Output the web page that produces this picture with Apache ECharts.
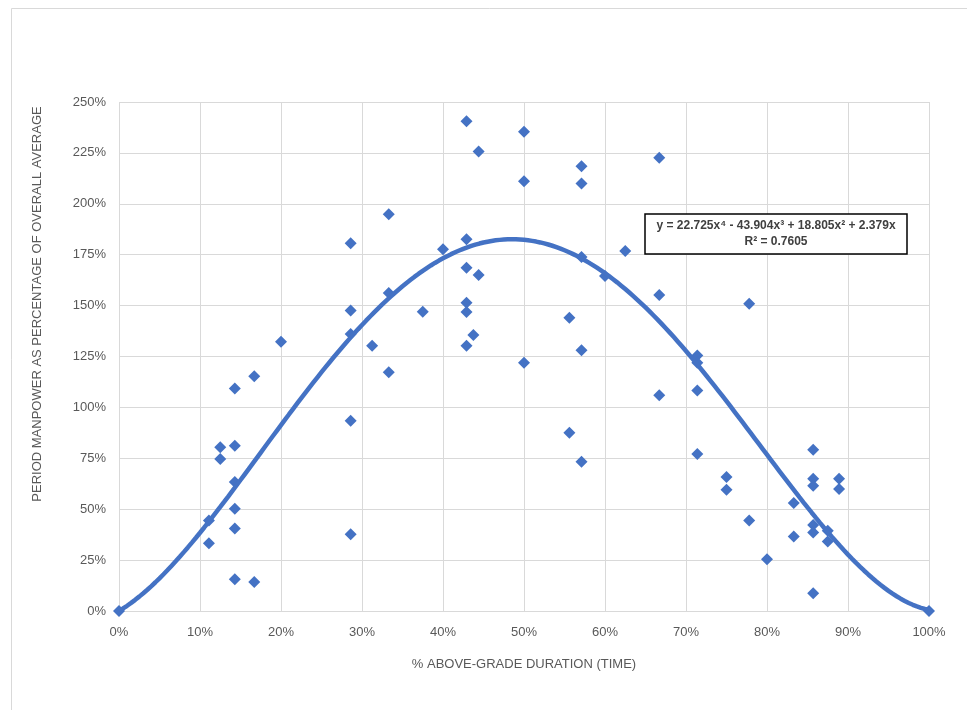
<!DOCTYPE html>
<html>
<head>
<meta charset="utf-8">
<script src="https://cdn.jsdelivr.net/npm/echarts@6/dist/echarts.min.js"></script>
<style>html,body{margin:0;padding:0;background:#fff}#c{width:967px;height:710px}</style>
</head>
<body>
<div id="c"></div>
<script>
// Observed data (fractions: 1 = 100%)
var xValues = [0, 1, 0.111, 0.111, 0.125, 0.125, 0.143, 0.143, 0.143, 0.143, 0.143, 0.143,
  0.167, 0.167, 0.2, 0.286, 0.286, 0.286, 0.286, 0.286, 0.3125, 0.333, 0.333, 0.333,
  0.375, 0.4, 0.429, 0.429, 0.429, 0.429, 0.429, 0.429, 0.4375, 0.444, 0.444,
  0.5, 0.5, 0.5, 0.556, 0.556, 0.571, 0.571, 0.571, 0.571, 0.571, 0.6, 0.625,
  0.667, 0.667, 0.667, 0.714, 0.714, 0.714, 0.714, 0.75, 0.75, 0.778, 0.778, 0.8,
  0.833, 0.833, 0.857, 0.857, 0.857, 0.857, 0.857, 0.857, 0.875, 0.875, 0.889, 0.889];
var yValues = [0, 0, 0.444, 0.333, 0.804, 0.746, 1.093, 0.812, 0.633, 0.502, 0.405, 0.156,
  1.153, 0.143, 1.322, 1.806, 1.476, 1.36, 0.935, 0.377, 1.303, 1.949, 1.562, 1.173,
  1.47, 1.777, 2.406, 1.826, 1.686, 1.514, 1.468, 1.303, 1.355, 2.257, 1.65,
  2.354, 2.111, 1.219, 1.44, 0.876, 2.185, 2.10, 1.739, 1.281, 0.733, 1.645, 1.768,
  2.226, 1.552, 1.06, 1.255, 1.219, 1.083, 0.771, 0.658, 0.595, 1.509, 0.444, 0.254,
  0.53, 0.366, 0.792, 0.65, 0.615, 0.423, 0.385, 0.087, 0.394, 0.341, 0.65, 0.599];
// Trendline coefficients as shown in the chart (x^4, x^3, x^2, x)
var trendCoefficients = [22.725, -43.904, 18.805, 2.379];
var trendLabel = 'y = 22.725x\u2074 - 43.904x\u00B3 + 18.805x\u00B2 + 2.379x';
var r2Label = 'R\u00B2 = 0.7605';
var xTickLabels = ['0%','10%','20%','30%','40%','50%','60%','70%','80%','90%','100%'];
var yTickLabels = ['0%','25%','50%','75%','100%','125%','150%','175%','200%','225%','250%'];
var xTitle = '% ABOVE-GRADE DURATION (TIME)';
var yTitle = 'PERIOD MANPOWER AS PERCENTAGE OF OVERALL AVERAGE';

var points = xValues.map(function (x, i) { return [x, yValues[i]]; });
var trend = [];
for (var i = 0; i <= 200; i++) {
  var x = i / 200;
  var c = trendCoefficients;
  trend.push([x, c[0]*Math.pow(x,4) + c[1]*Math.pow(x,3) + c[2]*x*x + c[3]*x]);
}
var blue = '#4472C4';
var labelColor = '#595959';
var font = 'Liberation Sans';

var chart = echarts.init(document.getElementById('c'));
chart.setOption({
  backgroundColor: '#fff',
  animation: false,
  grid: { left: 119, right: 38, top: 102, bottom: 99 },
  xAxis: {
    type: 'value', min: 0, max: 1, interval: 0.1,
    axisLine: { show: true, lineStyle: { color: '#d9d9d9', width: 1 } },
    axisTick: { show: false },
    splitLine: { show: true, lineStyle: { color: '#d9d9d9', width: 1 } },
    axisLabel: { color: labelColor, fontFamily: font, fontSize: 13, margin: 15,
      formatter: function (v) { return xTickLabels[Math.round(v * 10)]; } }
  },
  yAxis: {
    type: 'value', min: 0, max: 2.5, interval: 0.25,
    axisLine: { show: false },
    axisTick: { show: false },
    splitLine: { show: true, lineStyle: { color: '#d9d9d9', width: 1 } },
    axisLabel: { color: labelColor, fontFamily: font, fontSize: 13, margin: 13,
      formatter: function (v) { return yTickLabels[Math.round(v * 4)]; } }
  },
  series: [
    { type: 'scatter', data: points, symbol: 'diamond', symbolSize: 12,
      itemStyle: { color: blue, opacity: 1 }, z: 2 },
    { type: 'line', data: trend, showSymbol: false, smooth: false,
      lineStyle: { color: blue, width: 4.5 }, z: 3 }
  ],
  graphic: [
    { type: 'rect', left: 9, top: 6, shape: { width: 1000, height: 800 },
      style: { fill: 'none', stroke: '#d9d9d9', lineWidth: 1 }, silent: true, z: -1 },
    { type: 'text', x: 524, y: 664,
      style: { text: xTitle, fill: labelColor, font: '13px "Liberation Sans"', textAlign: 'center', textVerticalAlign: 'middle' } },
    { type: 'text', x: 37, y: 304, rotation: Math.PI / 2,
      style: { text: yTitle, fill: labelColor, font: '13px "Liberation Sans"', textAlign: 'center', textVerticalAlign: 'middle' } },
    { type: 'rect', shape: { x: 645, y: 214, width: 262, height: 40 },
      style: { fill: '#fff', stroke: '#000', lineWidth: 1.5 }, z: 10 },
    { type: 'text', x: 776, y: 226, z: 11,
      style: { text: trendLabel, fill: '#404040', font: 'bold 12px "Liberation Sans"', textAlign: 'center', textVerticalAlign: 'middle' } },
    { type: 'text', x: 776, y: 242, z: 11,
      style: { text: r2Label, fill: '#404040', font: 'bold 12px "Liberation Sans"', textAlign: 'center', textVerticalAlign: 'middle' } }
  ]
});
</script>
</body>
</html>
